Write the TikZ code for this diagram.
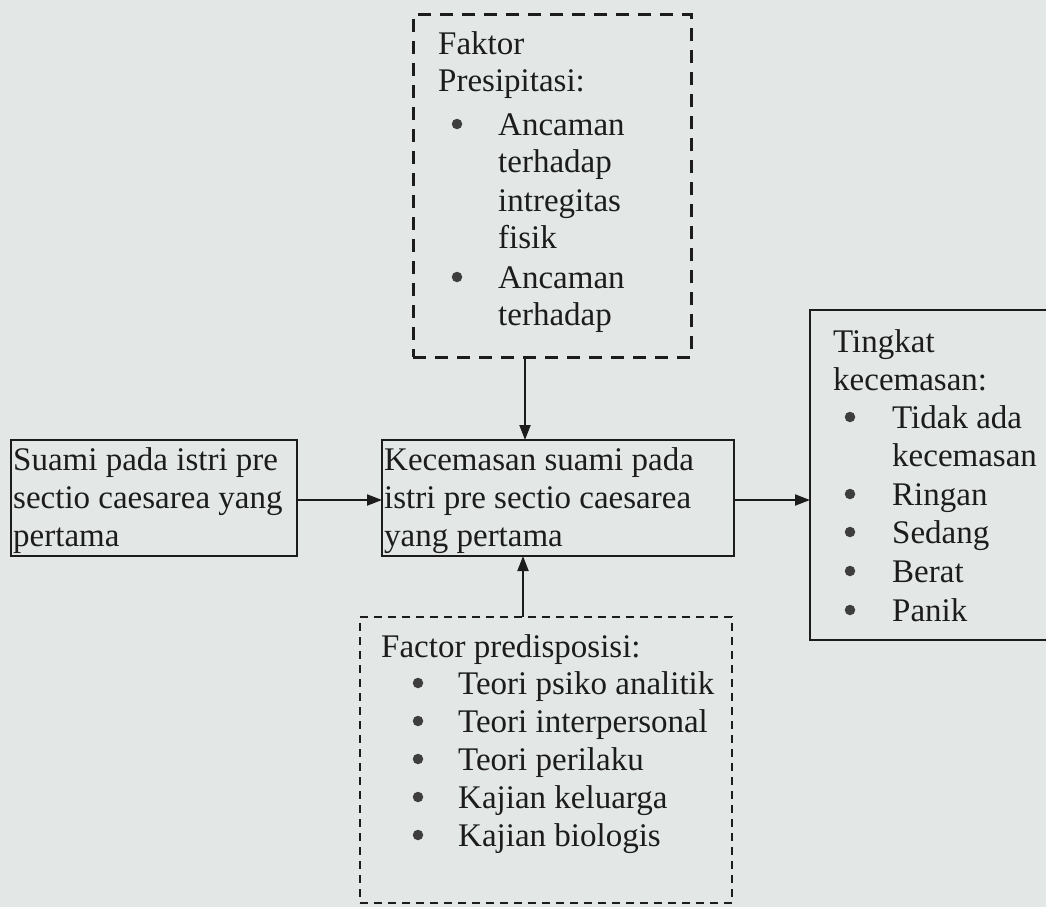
\documentclass[tikz,border=0pt]{standalone}
\usepackage{fontspec}
\setmainfont{Liberation Serif}
\usetikzlibrary{arrows.meta}
\definecolor{paper}{RGB}{227,232,230}
\definecolor{ink}{RGB}{28,28,28}
\begin{document}
\begin{tikzpicture}[x=1pt,y=-1pt,
  solidbox/.style={draw=ink,line width=2pt,rectangle,inner sep=0pt,outer sep=0pt},
  topdash/.style={draw=ink,line width=3pt,dash pattern=on 13pt off 9pt,rectangle,inner sep=0pt,outer sep=0pt},
  botdash/.style={draw=ink,line width=2pt,dash pattern=on 8pt off 6pt,rectangle,inner sep=0pt,outer sep=0pt},
  txt/.style={anchor=base west,inner sep=0pt,text=ink,font=\fontsize{33}{38}\selectfont},
  bul/.style={circle,fill=ink!85,inner sep=0pt,minimum size=10.5pt,yshift=11pt},
  arr/.style={draw=ink,line width=2pt,-{Triangle[length=15pt,width=11pt]}}]
\fill[paper] (0,0) rectangle (1046,907);
\useasboundingbox (0,0) rectangle (1046,907);

% boxes
\node[topdash,minimum width=278pt,minimum height=342pt] (top) at (552,186) {};
\node[solidbox,minimum width=286pt,minimum height=116pt] (left) at (154,498) {};
\node[solidbox,minimum width=352pt,minimum height=116pt] (mid) at (558,498) {};
\node[solidbox,minimum width=260pt,minimum height=330pt] (right) at (940,475) {};
\node[botdash,minimum width=372pt,minimum height=286pt] (bot) at (546,760) {};

% top box text
\node[txt] (t1) at (438,55) {Faktor};
\node[txt] (t2) at (438,92) {Presipitasi:};
\node[bul] (tb1) at (457,135) {};
\node[txt] (t3) at (498,135) {Ancaman};
\node[txt] (t4) at (498,172) {terhadap};
\node[txt] (t5) at (498,211) {intregitas};
\node[txt] (t6) at (498,248) {fisik};
\node[bul] (tb2) at (457,288) {};
\node[txt] (t7) at (498,288) {Ancaman};
\node[txt] (t8) at (498,325) {terhadap};

% left box text
\node[txt] (l1) at (13,470) {Suami pada istri pre};
\node[txt] (l2) at (13,508) {sectio caesarea yang};
\node[txt] (l3) at (13,546) {pertama};

% middle box text
\node[txt] (m1) at (384,470) {Kecemasan suami pada};
\node[txt] (m2) at (384,508) {istri pre sectio caesarea};
\node[txt] (m3) at (384,546) {yang pertama};

% right box text
\node[txt] (r1) at (833,352) {Tingkat};
\node[txt] (r2) at (833,390) {kecemasan:};
\node[bul] (rb1) at (850,428) {};
\node[txt] (r3) at (892,428) {Tidak ada};
\node[txt] (r4) at (892,466) {kecemasan};
\node[bul] (rb2) at (850,505) {};
\node[txt] (r5) at (892,505) {Ringan};
\node[bul] (rb3) at (850,543) {};
\node[txt] (r6) at (892,543) {Sedang};
\node[bul] (rb4) at (850,582) {};
\node[txt] (r7) at (892,582) {Berat};
\node[bul] (rb5) at (850,621) {};
\node[txt] (r8) at (892,621) {Panik};

% bottom box text
\node[txt] (b0) at (381,657) {Factor predisposisi:};
\node[bul] (bb1) at (418,694) {};
\node[txt] (b1) at (458,694) {Teori psiko analitik};
\node[bul] (bb2) at (418,732) {};
\node[txt] (b2) at (458,732) {Teori interpersonal};
\node[bul] (bb3) at (418,770) {};
\node[txt] (b3) at (458,770) {Teori perilaku};
\node[bul] (bb4) at (418,808) {};
\node[txt] (b4) at (458,808) {Kajian keluarga};
\node[bul] (bb5) at (418,846) {};
\node[txt] (b5) at (458,846) {Kajian biologis};

% connectors
\coordinate (tv) at (525,0);
\coordinate (bv) at (523,0);
\coordinate (hy) at (0,500);
\draw[arr] (top.south -| tv) -- (mid.north -| tv);
\draw[arr] (bot.north -| bv) -- (mid.south -| bv);
\draw[arr] (left.east |- hy) -- (mid.west |- hy);
\draw[arr] (mid.east |- hy) -- (right.west |- hy);
\end{tikzpicture}
\end{document}
